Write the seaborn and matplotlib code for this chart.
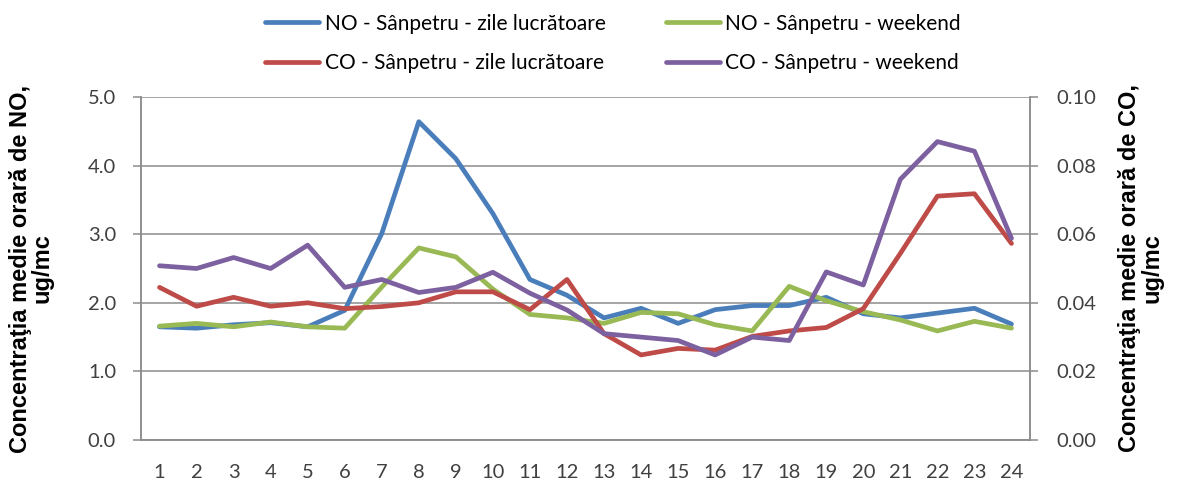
import numpy as np
import pandas as pd
import matplotlib
matplotlib.use("Agg")
import matplotlib.pyplot as plt
import seaborn as sns

hours = list(range(1, 25))
no_work = [1.65, 1.63, 1.68, 1.71, 1.65, 1.89, 3.01, 4.64, 4.10, 3.30, 2.34, 2.11,
           1.78, 1.92, 1.70, 1.90, 1.96, 1.96, 2.08, 1.84, 1.78, 1.85, 1.92, 1.69]
no_weekend = [1.66, 1.70, 1.65, 1.72, 1.65, 1.63, 2.23, 2.80, 2.67, 2.20, 1.83, 1.78,
              1.70, 1.86, 1.84, 1.68, 1.59, 2.24, 2.03, 1.87, 1.75, 1.59, 1.73, 1.63]
co_work = [0.0445, 0.0390, 0.0416, 0.0390, 0.0400, 0.0383, 0.0389, 0.0400, 0.0432, 0.0432, 0.0380, 0.0468,
           0.0310, 0.0248, 0.0267, 0.0262, 0.0302, 0.0318, 0.0328, 0.0383, 0.0544, 0.0711, 0.0718, 0.0573]
co_weekend = [0.0508, 0.0500, 0.0532, 0.0500, 0.0568, 0.0445, 0.0468, 0.0430, 0.0445, 0.0489, 0.0428, 0.0379,
              0.0310, 0.0300, 0.0290, 0.0248, 0.0300, 0.0290, 0.0490, 0.0452, 0.0760, 0.0870, 0.0842, 0.0588]

labels = ["NO - Sânpetru - zile lucrătoare", "NO - Sânpetru - weekend",
          "CO - Sânpetru - zile lucrătoare", "CO - Sânpetru - weekend"]
left_ticks = [0.0, 1.0, 2.0, 3.0, 4.0, 5.0]
right_ticks = [0.00, 0.02, 0.04, 0.06, 0.08, 0.10]

df = pd.DataFrame({"hour": hours, "no_work": no_work, "no_weekend": no_weekend,
                   "co_work": co_work, "co_weekend": co_weekend})

sns.set_theme(style="white")
plt.rcParams['font.family'] = ['Lato', 'DejaVu Sans']

c_blue, c_green, c_red, c_purple = "#4A7EBB", "#98B954", "#BE4B48", "#7D60A0"
grid_c = "#8C8C8C"
text_c = "#404040"

fig = plt.figure(figsize=(11.79, 4.82), dpi=100)
ax = fig.add_axes([141 / 1179, 42 / 482, 889 / 1179, 343 / 482])
ax2 = ax.twinx()

lw = 3.4
sns.lineplot(data=df, x="hour", y="no_work", ax=ax, color=c_blue, lw=lw, label=labels[0], legend=False)
sns.lineplot(data=df, x="hour", y="no_weekend", ax=ax, color=c_green, lw=lw, label=labels[1], legend=False)
sns.lineplot(data=df, x="hour", y="co_work", ax=ax2, color=c_red, lw=lw, label=labels[2], legend=False)
sns.lineplot(data=df, x="hour", y="co_weekend", ax=ax2, color=c_purple, lw=lw, label=labels[3], legend=False)

ax.set_xlim(0.5, 24.5)
ax.set_ylim(0, 5.0)
ax2.set_ylim(0, 0.10)

ax.set_yticks(left_ticks)
ax.set_yticklabels([f"{v:.1f}" for v in left_ticks])
ax2.set_yticks(right_ticks)
ax2.set_yticklabels([f"{v:.2f}" for v in right_ticks])
ax.set_xticks(hours)
ax.set_xticklabels([str(h) for h in hours])
ax.set_xticks(np.arange(0.5, 25, 1.0), minor=True)

ax.yaxis.grid(True, color=grid_c, lw=1.1)
ax.set_axisbelow(True)
ax2.grid(False)

for a in (ax, ax2):
    for s in a.spines.values():
        s.set_color(grid_c)
        s.set_linewidth(1.1)
    a.spines['top'].set_visible(False)

ax.tick_params(axis='x', which='major', length=0, pad=17, labelsize=14.5, labelcolor=text_c)
ax.tick_params(axis='x', which='minor', length=6, color=grid_c, width=1.1, direction='out')
ax.tick_params(axis='y', length=6, color=grid_c, width=1.1, direction='out', pad=12,
               labelsize=14.5, labelcolor=text_c, left=True)
ax2.tick_params(axis='y', length=6, color=grid_c, width=1.1, direction='out', pad=13,
                labelsize=14.5, labelcolor=text_c, right=True)

lab_font = dict(family=['Liberation Sans', 'DejaVu Sans'], fontsize=17, fontweight='bold', color='black')
ax.set_xlabel("")
ax.set_ylabel("Concentraţia medie orară de NO,\nug/mc", linespacing=0.95, **lab_font)
ax2.set_ylabel("Concentraţia medie orară de CO,\nug/mc", linespacing=0.95, **lab_font)
ax.yaxis.set_label_coords(-0.098, 0.5)
ax2.yaxis.set_label_coords(1.099, 0.5)

h1, l1 = ax.get_legend_handles_labels()
h2, l2 = ax2.get_legend_handles_labels()
handles = [h1[0], h2[0], h1[1], h2[1]]
labs = [l1[0], l2[0], l1[1], l2[1]]
fig.legend(handles, labs, ncol=2, loc='upper center', bbox_to_anchor=(613 / 1179, 1.0),
           frameon=False, fontsize=15, handlelength=2.6, handletextpad=0.25,
           columnspacing=2.9, labelspacing=0.95, borderpad=0.15, labelcolor='black')

fig.savefig("out.png", dpi=100)
